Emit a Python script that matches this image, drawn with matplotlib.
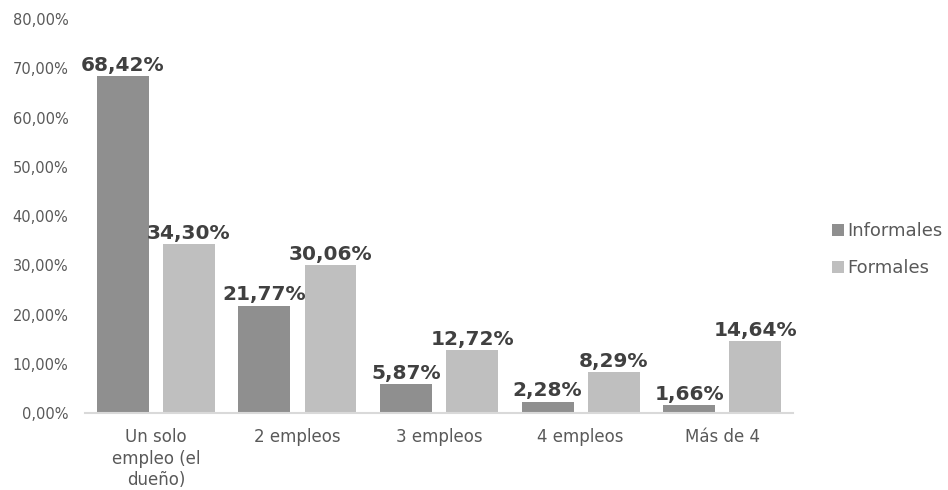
import matplotlib
matplotlib.use("Agg")
import matplotlib.pyplot as plt
import numpy as np

categories = ["Un solo\nempleo (el\ndueño)", "2 empleos", "3 empleos", "4 empleos", "Más de 4"]
informales = [68.42, 21.77, 5.87, 2.28, 1.66]
formales = [34.30, 30.06, 12.72, 8.29, 14.64]
yticks = [0, 10, 20, 30, 40, 50, 60, 70, 80]

plt.rcParams['font.family'] = ['DejaVu Sans']

fig = plt.figure(figsize=(9.48, 4.9), dpi=100)
ax = fig.add_axes([0.0897, 0.157, 0.7468, 0.804])

x = np.arange(len(categories))
w = 0.367
off = w / 2 + 0.05
c1, c2 = "#8f8f8f", "#bfbfbf"
b1 = ax.bar(x - off, informales, w, color=c1, label="Informales")
b2 = ax.bar(x + off, formales, w, color=c2, label="Formales")

def fmt(v):
    return f"{v:.2f}".replace(".", ",") + "%"

for bars, vals in ((b1, informales), (b2, formales)):
    for b, v in zip(bars, vals):
        ax.annotate(fmt(v), (b.get_x() + b.get_width() / 2, v), xytext=(0, 1),
                    textcoords="offset points", ha="center", va="bottom",
                    fontsize=14.5, fontweight="bold", color="#404040")

ax.set_xlim(-0.5, len(categories) - 0.5)
ax.set_ylim(0, 80)
ax.set_yticks(yticks)
ax.set_yticklabels([f"{t:.2f}".replace(".", ",") + "%" for t in yticks], color="#595959", fontsize=10.5)
ax.set_xticks(x)
ax.set_xticklabels(categories, color="#595959", fontsize=12, linespacing=1.25)
ax.tick_params(axis="both", length=0)
ax.tick_params(axis="x", pad=11)
ax.tick_params(axis="y", pad=12)
for s in ("top", "right", "left"):
    ax.spines[s].set_visible(False)
ax.spines["bottom"].set_color("#d9d9d9")
ax.spines["bottom"].set_linewidth(1.5)

leg = fig.legend(handles=[b1, b2], loc="center left", bbox_to_anchor=(0.878, 0.49),
                 frameon=False, fontsize=13, handlelength=0.65, handleheight=0.65,
                 handletextpad=0.2, labelspacing=1.05, borderaxespad=0, borderpad=0)
for t in leg.get_texts():
    t.set_color("#595959")

fig.savefig("out.png", dpi=100)
